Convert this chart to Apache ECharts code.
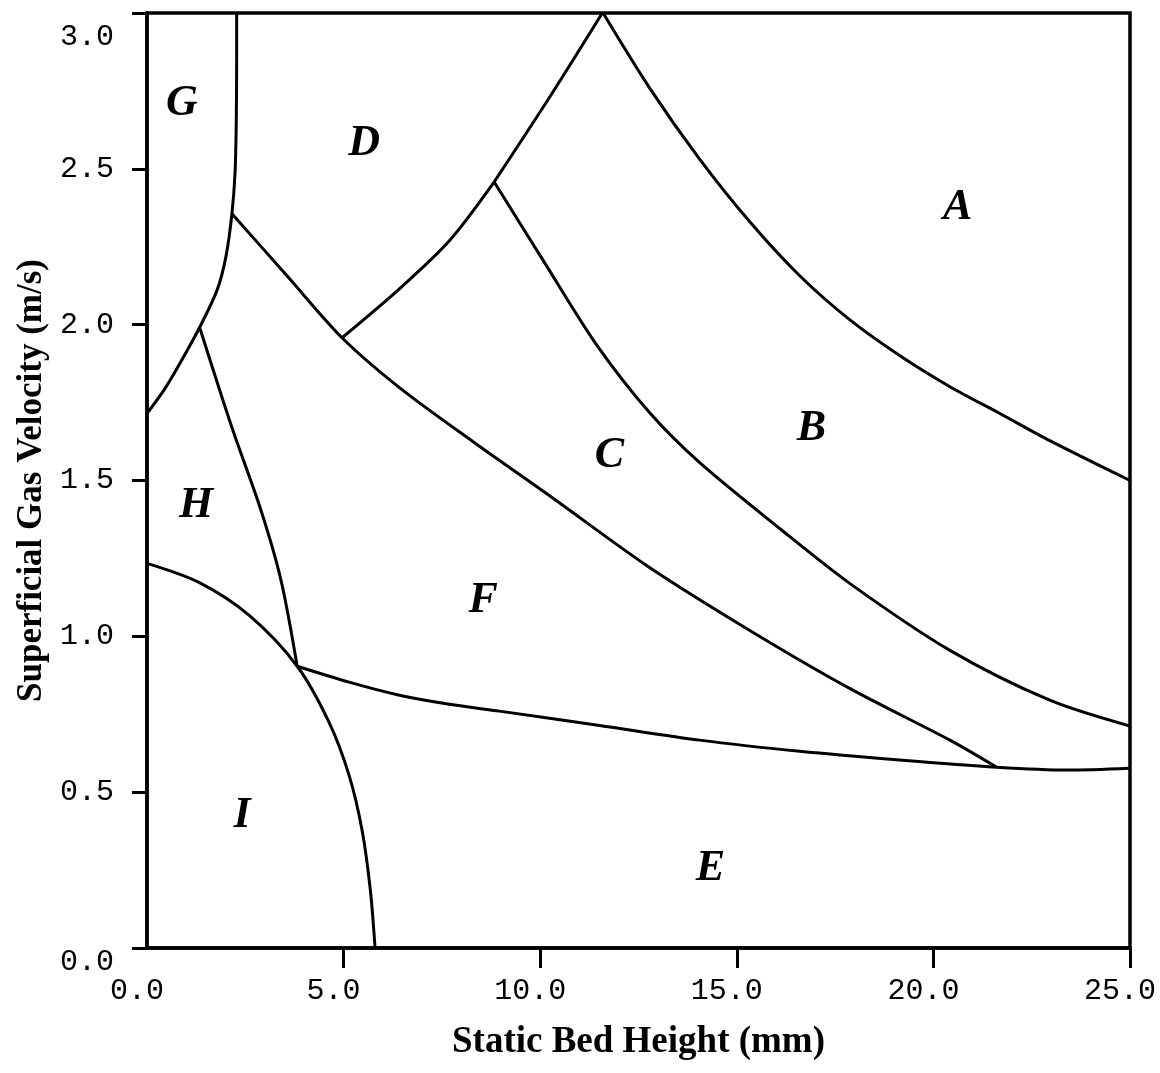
<!DOCTYPE html>
<html>
<head>
<meta charset="utf-8">
<script src="https://cdn.jsdelivr.net/npm/echarts@6/dist/echarts.min.js"></script>
<style>
html, body { margin: 0; padding: 0; background: #fff; }
#chart { width: 1160px; height: 1073px; }
</style>
</head>
<body>
<div id="chart"></div>
<script>
// regime boundaries, points are [static bed height (mm), gas velocity (m/s)]
const curveG   = [[2.28, 3.0], [2.28, 2.85], [2.27, 2.65], [2.24, 2.49], [2.16, 2.356], [2.01, 2.22], [1.78, 2.11], [1.32, 1.987], [0.81, 1.87], [0.43, 1.79], [0, 1.715]];
const curveDF  = [[2.16, 2.356], [3.56, 2.157], [4.96, 1.958], [6.42, 1.798], [8.32, 1.622], [10.23, 1.452], [12.78, 1.221], [15.33, 1.019], [17.87, 0.833], [20.42, 0.667], [21.61, 0.58]];
const curveDCa = [[4.96, 1.958], [6.42, 2.115], [7.69, 2.269], [8.83, 2.458]];
const curveDCb = [[8.83, 2.458], [10.23, 2.728], [11.58, 3.0]];
const curveCB  = [[8.83, 2.458], [10.11, 2.199], [11.43, 1.936], [12.78, 1.718], [14.05, 1.558], [16.09, 1.346], [17.87, 1.17], [20.42, 0.955], [22.96, 0.795], [25.0, 0.712]];
const curveAB  = [[11.6, 3.0], [12.78, 2.76], [14.05, 2.532], [15.33, 2.33], [16.6, 2.157], [17.87, 2.016], [19.14, 1.901], [20.42, 1.801], [21.69, 1.715], [22.96, 1.628], [25.0, 1.5]];
const curveHF  = [[1.35, 1.987], [2.16, 1.67], [2.9, 1.404], [3.41, 1.179], [3.82, 0.904]];
const curveI   = [[0, 1.234], [1.32, 1.173], [2.6, 1.067], [3.82, 0.904], [4.63, 0.724], [5.14, 0.554], [5.47, 0.378], [5.68, 0.186], [5.8, 0]];
const curveFE  = [[3.82, 0.904], [5.14, 0.853], [6.42, 0.811], [7.69, 0.782], [8.96, 0.76], [11.51, 0.714], [14.05, 0.667], [16.6, 0.631], [19.14, 0.603], [21.61, 0.58], [23.4, 0.571], [25.0, 0.577]];

// region letters and where they sit
const regionNames = ['A', 'B', 'C', 'D', 'E', 'F', 'G', 'H', 'I'];
const regionPos = [[20.62, 2.375], [16.9, 1.667], [11.76, 1.58], [5.52, 2.58], [14.33, 0.256], [8.55, 1.115], [0.89, 2.708], [1.25, 1.42], [2.42, 0.426]];

const xTicks = [5, 10, 15, 20, 25];
const xLabels = [0, 5, 10, 15, 20, 25];

const chart = echarts.init(document.getElementById('chart'));

const boundaries = [curveG, curveDF, curveDCa, curveDCb, curveCB, curveAB, curveHF, curveI, curveFE];
const series = boundaries.map(pts => ({
    type: 'line',
    data: pts,
    smooth: 0.3,
    showSymbol: false,
    silent: true,
    lineStyle: { color: '#000', width: 3 }
}));

series.push({
    type: 'scatter',
    symbolSize: 0,
    silent: true,
    itemStyle: { opacity: 1 },
    data: regionNames.map((n, i) => ({ name: n, value: regionPos[i] })),
    label: {
        show: true,
        position: 'inside',
        formatter: p => p.name,
        fontFamily: 'Liberation Serif',
        fontStyle: 'italic',
        fontWeight: 'bold',
        fontSize: 44,
        color: '#000',
        opacity: 1
    }
});

const tickFont = { fontFamily: 'Liberation Mono', fontSize: 30, color: '#000' };

chart.setOption({
    animation: false,
    backgroundColor: '#fff',
    grid: {
        left: 147, right: 30, top: 13, bottom: 125,
        show: true, borderColor: '#000', borderWidth: 3.5
    },
    xAxis: {
        type: 'value',
        min: 0, max: 25, interval: 5,
        name: 'Static Bed Height (mm)',
        nameLocation: 'middle',
        nameGap: 76,
        nameTextStyle: { fontFamily: 'Liberation Serif', fontWeight: 'bold', fontSize: 37, color: '#000' },
        axisLine: { lineStyle: { color: '#000', width: 3.5 } },
        axisTick: { show: true, inside: false, length: 20, customValues: xTicks, lineStyle: { color: '#000', width: 3 } },
        axisLabel: Object.assign({ margin: 28, customValues: xLabels, padding: [0, 20, 0, 0], formatter: v => v.toFixed(1) }, tickFont),
        splitLine: { show: false }
    },
    yAxis: {
        type: 'value',
        min: 0, max: 3, interval: 0.5,
        name: 'Superficial Gas Velocity (m/s)',
        nameLocation: 'middle',
        nameGap: 98,
        nameTextStyle: { fontFamily: 'Liberation Serif', fontWeight: 'bold', fontSize: 35, color: '#000' },
        axisLine: { lineStyle: { color: '#000', width: 3.5 } },
        axisTick: { show: true, inside: false, length: 15, lineStyle: { color: '#000', width: 3 } },
        axisLabel: Object.assign({
            margin: 33,
            formatter: v => v === 3 ? '{t|3.0}' : (v === 0 ? '{b|0.0}' : '{n|' + v.toFixed(1) + '}'),
            rich: {
                t: Object.assign({ padding: [48, 0, 0, 0] }, tickFont),
                b: Object.assign({ padding: [28, 0, 0, 0] }, tickFont),
                n: Object.assign({}, tickFont)
            }
        }, tickFont),
        splitLine: { show: false }
    },
    series: series
});
</script>
</body>
</html>
